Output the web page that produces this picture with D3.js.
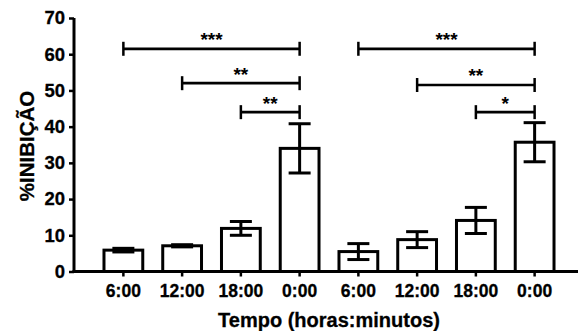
<!DOCTYPE html>
<html>
<head>
<meta charset="utf-8">
<script src="https://cdn.jsdelivr.net/npm/d3@7"></script>
<style>
  body { margin: 0; background: #fff; }
  svg text { font-family: "Liberation Sans", Arial, sans-serif; font-weight: bold; }
</style>
</head>
<body>
<div id="chart"></div>
<script>
// data
var categories = ["a6", "a12", "a18", "a0", "b6", "b12", "b18", "b0"];
var tickLabels = ["6:00", "12:00", "18:00", "0:00", "6:00", "12:00", "18:00", "0:00"];
var means = [5.9, 7.1, 11.9, 34, 5.5, 8.8, 14.1, 35.7];
var errors = [0.5, 0.3, 1.9, 6.8, 2.2, 2.2, 3.6, 5.4];
var yTicks = [0, 10, 20, 30, 40, 50, 60, 70];

// significance brackets: from category, to category, height, label
var bracketFrom = ["a6", "a12", "a18", "b6", "b12", "b18"];
var bracketTo = ["a0", "a0", "a0", "b0", "b0", "b0"];
var bracketY = [61.5, 52, 44, 61.5, 51.5, 44];
var bracketLabel = ["***", "**", "**", "***", "**", "*"];

var width = 580, height = 331;
var x0 = 74, x1 = 578, yTop = 18, yBottom = 271.5;

var svg = d3.select("#chart").append("svg")
  .attr("width", width)
  .attr("height", height);

var x = d3.scaleBand()
  .domain(categories)
  .range([94, 564])
  .padding(0);

var y = d3.scaleLinear()
  .domain([0, 70])
  .range([yBottom, yTop]);

var barW = x.bandwidth() * 0.66;
var cx = function(c) { return x(c) + x.bandwidth() / 2; };

// bars
svg.selectAll(".bar")
  .data(means)
  .enter().append("rect")
  .attr("class", "bar")
  .attr("x", function(d, i) { return cx(categories[i]) - barW / 2; })
  .attr("y", function(d) { return y(d); })
  .attr("width", barW)
  .attr("height", function(d) { return y(0) - y(d); })
  .attr("fill", "#fff")
  .attr("stroke", "#000")
  .attr("stroke-width", 3);

// error bars
var capW = 22;
var eb = svg.selectAll(".err")
  .data(means)
  .enter().append("g")
  .attr("class", "err")
  .attr("stroke", "#000")
  .attr("stroke-width", 3);

eb.append("line")
  .attr("x1", function(d, i) { return cx(categories[i]); })
  .attr("x2", function(d, i) { return cx(categories[i]); })
  .attr("y1", function(d, i) { return y(d + errors[i]); })
  .attr("y2", function(d, i) { return y(d - errors[i]); });

eb.append("line")
  .attr("x1", function(d, i) { return cx(categories[i]) - capW / 2; })
  .attr("x2", function(d, i) { return cx(categories[i]) + capW / 2; })
  .attr("y1", function(d, i) { return y(d + errors[i]); })
  .attr("y2", function(d, i) { return y(d + errors[i]); });

eb.append("line")
  .attr("x1", function(d, i) { return cx(categories[i]) - capW / 2; })
  .attr("x2", function(d, i) { return cx(categories[i]) + capW / 2; })
  .attr("y1", function(d, i) { return y(d - errors[i]); })
  .attr("y2", function(d, i) { return y(d - errors[i]); });

// brackets
var br = svg.selectAll(".bracket")
  .data(bracketY)
  .enter().append("g")
  .attr("class", "bracket");

br.append("line")
  .attr("x1", function(d, i) { return cx(bracketFrom[i]); })
  .attr("x2", function(d, i) { return cx(bracketTo[i]); })
  .attr("y1", function(d) { return y(d); })
  .attr("y2", function(d) { return y(d); })
  .attr("stroke", "#000").attr("stroke-width", 2.7);

br.append("line")
  .attr("x1", function(d, i) { return cx(bracketFrom[i]); })
  .attr("x2", function(d, i) { return cx(bracketFrom[i]); })
  .attr("y1", function(d) { return y(d) - 7; })
  .attr("y2", function(d) { return y(d) + 7; })
  .attr("stroke", "#000").attr("stroke-width", 2.5);

br.append("line")
  .attr("x1", function(d, i) { return cx(bracketTo[i]); })
  .attr("x2", function(d, i) { return cx(bracketTo[i]); })
  .attr("y1", function(d) { return y(d) - 7; })
  .attr("y2", function(d) { return y(d) + 7; })
  .attr("stroke", "#000").attr("stroke-width", 2.5);

br.append("text")
  .attr("x", function(d, i) { return (cx(bracketFrom[i]) + cx(bracketTo[i])) / 2; })
  .attr("y", function(d) { return y(d) - 2.5; })
  .attr("text-anchor", "middle")
  .style("font-size", "19px")
  .text(function(d, i) { return bracketLabel[i]; });

// y axis
var yAxis = svg.append("g")
  .attr("transform", "translate(" + x0 + ",0)")
  .call(d3.axisLeft(y).tickValues(yTicks).tickSize(5).tickPadding(4));
yAxis.select(".domain").attr("stroke-width", 3).attr("d", "M0," + yTop + "V" + (yBottom + 1.5));
yAxis.selectAll(".tick line").attr("stroke-width", 2.5);
yAxis.selectAll(".tick text").style("font-size", "18.5px").attr("fill", "#000")
  .attr("stroke", "#000").attr("stroke-width", 0.3);

// x axis
var xAxis = svg.append("g")
  .attr("transform", "translate(0," + yBottom + ")")
  .call(d3.axisBottom(x).tickFormat(function(d, i) { return tickLabels[i]; }).tickSize(5).tickPadding(8));
xAxis.select(".domain").attr("stroke-width", 3).attr("d", "M" + (x0 - 1.5) + ",0H" + x1);
xAxis.selectAll(".tick line").attr("stroke-width", 2.5);
xAxis.selectAll(".tick text").style("font-size", "17.5px").attr("fill", "#000")
  .attr("stroke", "#000").attr("stroke-width", 0.3);

// axis titles
svg.append("text")
  .attr("x", 329)
  .attr("y", 327)
  .attr("text-anchor", "middle")
  .style("font-size", "20px")
  .attr("stroke", "#000").attr("stroke-width", 0.3)
  .text("Tempo (horas:minutos)");

svg.append("text")
  .attr("transform", "translate(34,146) rotate(-90)")
  .attr("text-anchor", "middle")
  .style("font-size", "20.5px")
  .attr("stroke", "#000").attr("stroke-width", 0.3)
  .text("%INIBIÇÃO");
</script>
</body>
</html>
